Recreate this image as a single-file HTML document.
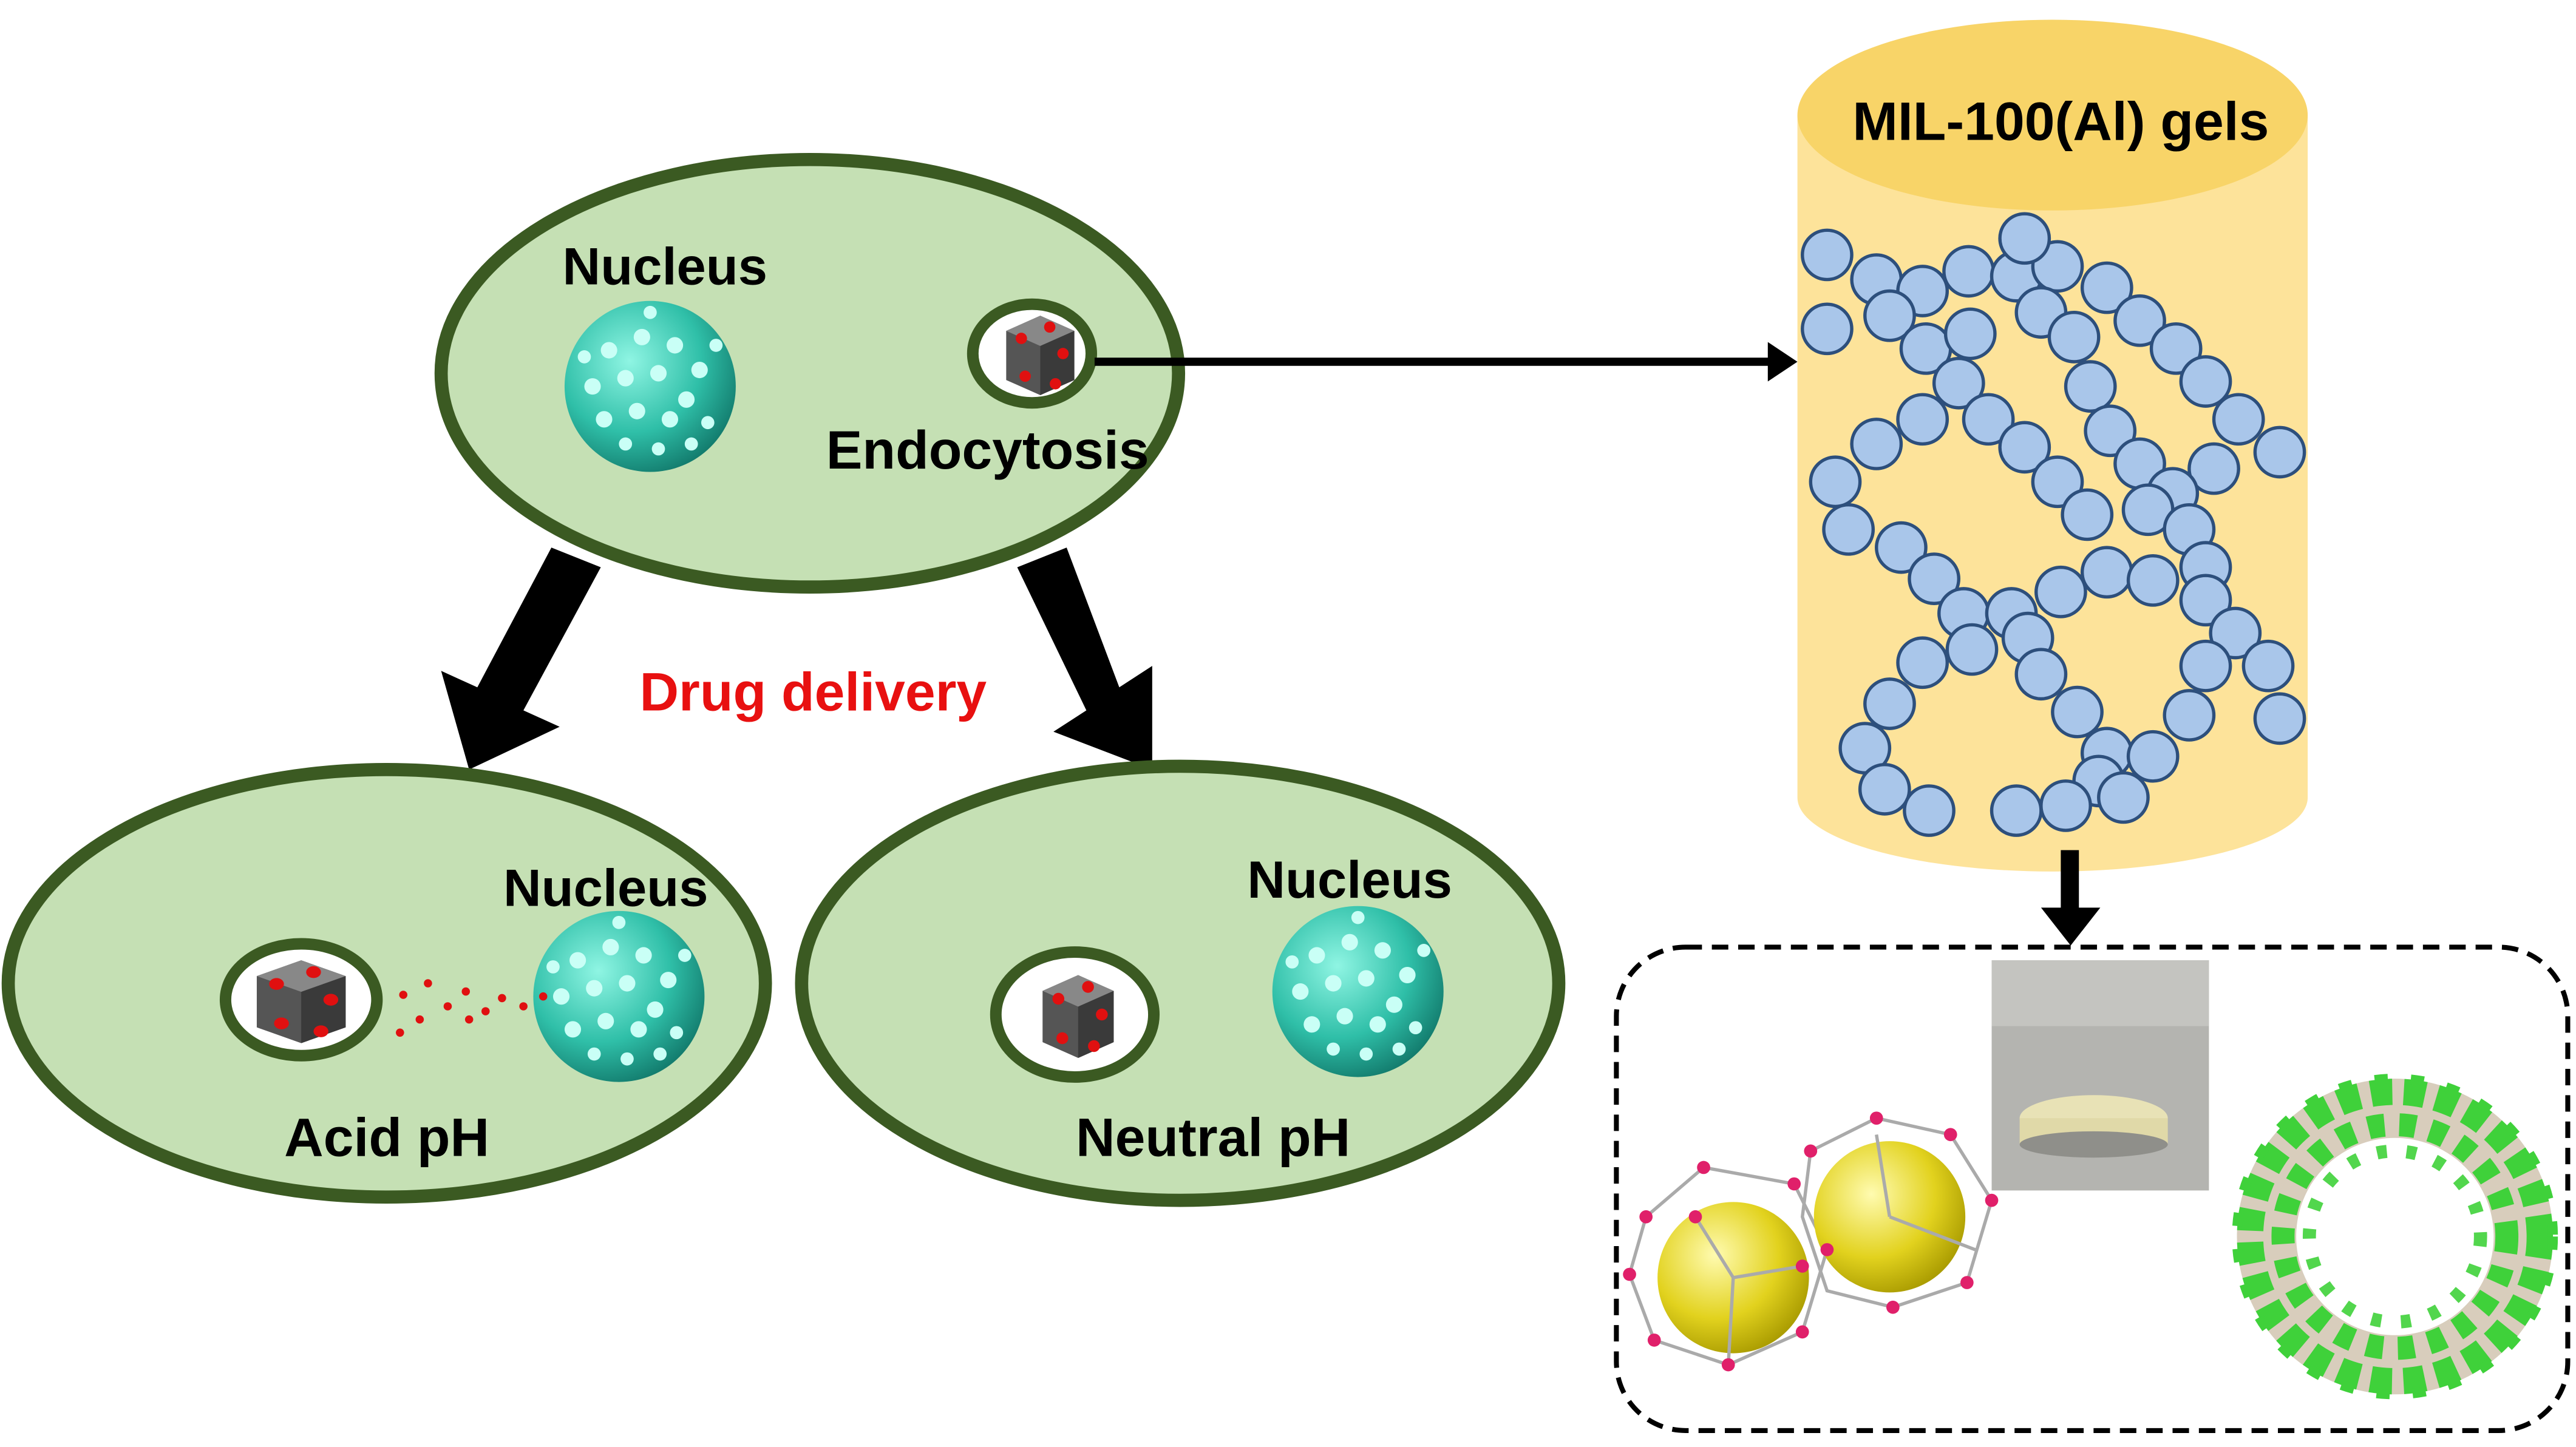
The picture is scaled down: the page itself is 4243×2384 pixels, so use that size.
<!DOCTYPE html>
<html><head><meta charset="utf-8"><style>
html,body{margin:0;padding:0;background:#fff;}
svg{display:block}
text{font-family:"Liberation Sans",Arial,sans-serif;font-weight:bold}
</style></head><body>
<svg width="4243" height="2384" viewBox="0 0 1565 880" preserveAspectRatio="none">
<defs>
<radialGradient id="nuc" cx="0.38" cy="0.35" r="0.7">
<stop offset="0" stop-color="#8ff5e3"/><stop offset="0.6" stop-color="#2fbfa8"/><stop offset="1" stop-color="#127a6c"/></radialGradient>
<radialGradient id="ys" cx="0.38" cy="0.35" r="0.7">
<stop offset="0" stop-color="#fffbb0"/><stop offset="0.6" stop-color="#e2d21e"/><stop offset="1" stop-color="#a89a00"/></radialGradient>
<g id="nucleus">
<circle r="52" fill="url(#nuc)"/>
<g fill="#c9fff6">
<circle cx="-25" cy="-22" r="5"/><circle cx="-5" cy="-30" r="5"/><circle cx="15" cy="-25" r="5"/><circle cx="30" cy="-10" r="5"/>
<circle cx="-35" cy="0" r="5"/><circle cx="-15" cy="-5" r="5"/><circle cx="5" cy="-8" r="5"/><circle cx="22" cy="8" r="5"/>
<circle cx="-28" cy="20" r="5"/><circle cx="-8" cy="15" r="5"/><circle cx="12" cy="20" r="5"/><circle cx="35" cy="22" r="4"/>
<circle cx="-15" cy="35" r="4"/><circle cx="5" cy="38" r="4"/><circle cx="25" cy="35" r="4"/><circle cx="-40" cy="-18" r="4"/>
<circle cx="40" cy="-25" r="4"/><circle cx="0" cy="-45" r="4"/>
</g></g>
<g id="cube">
<path d="M-18,-12 L0,-20 L18,-12 L18,14 L0,22 L-18,14Z" fill="#555"/>
<path d="M-18,-12 L0,-20 L18,-12 L0,-4Z" fill="#888"/>
<path d="M0,-4 L18,-12 L18,14 L0,22Z" fill="#3a3a3a"/>
<g fill="#e01010"><circle cx="-10" cy="-8" r="3"/><circle cx="5" cy="-14" r="3"/><circle cx="12" cy="0" r="3"/><circle cx="-8" cy="12" r="3"/><circle cx="8" cy="16" r="3"/></g>
</g>
</defs>

<!-- top cell -->
<ellipse cx="492" cy="227" rx="224" ry="130" fill="#c5e0b4" stroke="#3b5a22" stroke-width="8"/>
<use href="#nucleus" x="395" y="235"/>
<text x="404" y="173" font-size="32" text-anchor="middle">Nucleus</text>
<ellipse cx="627" cy="215" rx="36" ry="30" fill="#fff" stroke="#3b5a22" stroke-width="7"/>
<g transform="translate(632,215) scale(1.15)"><use href="#cube"/></g>
<text x="600" y="285" font-size="33" text-anchor="middle">Endocytosis</text>
<line x1="665" y1="220" x2="1078" y2="220" stroke="#000" stroke-width="5"/>
<polygon points="1092,220 1074,208 1074,232" fill="#000"/>

<!-- big arrows -->
<polygon points="335,333 365,345 318,432 340,442 285,468 268,408 290,418" fill="#000"/>
<polygon points="618,345 648,333 680,418 700,405 700,468 640,445 660,432" fill="#000"/>
<text x="494" y="432" font-size="33" fill="#e81010" text-anchor="middle">Drug delivery</text>

<!-- bottom left cell -->
<ellipse cx="235" cy="598" rx="230" ry="130" fill="#c5e0b4" stroke="#3b5a22" stroke-width="8"/>
<use href="#nucleus" x="376" y="606"/>
<text x="368" y="551" font-size="32" text-anchor="middle">Nucleus</text>
<ellipse cx="183" cy="608" rx="46" ry="34" fill="#fff" stroke="#3b5a22" stroke-width="7"/>
<g transform="translate(183,608) scale(1.5,1.2)"><use href="#cube"/></g>
<g fill="#e01010"><circle cx="245" cy="605" r="2.5"/><circle cx="260" cy="598" r="2.5"/><circle cx="272" cy="612" r="2.5"/><circle cx="283" cy="603" r="2.5"/><circle cx="295" cy="615" r="2.5"/><circle cx="305" cy="607" r="2.5"/><circle cx="318" cy="612" r="2.5"/><circle cx="255" cy="620" r="2.5"/><circle cx="285" cy="620" r="2.5"/><circle cx="243" cy="628" r="2.5"/><circle cx="330" cy="606" r="2.5"/></g>
<text x="235" y="703" font-size="33" text-anchor="middle">Acid pH</text>

<!-- bottom right cell -->
<ellipse cx="717" cy="598" rx="230" ry="132" fill="#c5e0b4" stroke="#3b5a22" stroke-width="8"/>
<use href="#nucleus" x="825" y="603"/>
<text x="820" y="546" font-size="32" text-anchor="middle">Nucleus</text>
<ellipse cx="653" cy="617" rx="48" ry="38" fill="#fff" stroke="#3b5a22" stroke-width="7"/>
<g transform="translate(655,617) scale(1.2)"><use href="#cube"/></g>
<text x="737" y="703" font-size="33" text-anchor="middle">Neutral pH</text>

<!-- cylinder -->
<path d="M1092,70 L1092,485 A155,45 0 0 0 1402,485 L1402,70Z" fill="#fde39a"/>
<ellipse cx="1247" cy="70" rx="155" ry="58" fill="#f8d468"/>
<text x="1252" y="85" font-size="33" text-anchor="middle">MIL-100(Al) gels</text>
<g fill="#a9c6ea" stroke="#2d4f7c" stroke-width="2">
<circle cx="1110" cy="155" r="15"/><circle cx="1140" cy="170" r="15"/><circle cx="1168" cy="177" r="15"/><circle cx="1196" cy="165" r="15"/><circle cx="1225" cy="168" r="15"/><circle cx="1250" cy="162" r="15"/><circle cx="1280" cy="175" r="15"/><circle cx="1230" cy="145" r="15"/>
<circle cx="1110" cy="200" r="15"/><circle cx="1148" cy="192" r="15"/><circle cx="1170" cy="212" r="15"/><circle cx="1197" cy="203" r="15"/><circle cx="1240" cy="190" r="15"/><circle cx="1260" cy="205" r="15"/><circle cx="1300" cy="195" r="15"/><circle cx="1322" cy="212" r="15"/>
<circle cx="1190" cy="233" r="15"/><circle cx="1270" cy="235" r="15"/><circle cx="1340" cy="232" r="15"/><circle cx="1360" cy="255" r="15"/><circle cx="1385" cy="275" r="15"/>
<circle cx="1168" cy="255" r="15"/><circle cx="1208" cy="255" r="15"/><circle cx="1140" cy="270" r="15"/><circle cx="1230" cy="272" r="15"/><circle cx="1282" cy="262" r="15"/><circle cx="1300" cy="282" r="15"/><circle cx="1345" cy="285" r="15"/>
<circle cx="1115" cy="293" r="15"/><circle cx="1250" cy="293" r="15"/><circle cx="1320" cy="300" r="15"/><circle cx="1305" cy="310" r="15"/><circle cx="1268" cy="313" r="15"/>
<circle cx="1123" cy="322" r="15"/><circle cx="1155" cy="333" r="15"/><circle cx="1330" cy="322" r="15"/><circle cx="1340" cy="345" r="15"/>
<circle cx="1175" cy="352" r="15"/><circle cx="1280" cy="348" r="15"/><circle cx="1308" cy="353" r="15"/><circle cx="1252" cy="360" r="15"/><circle cx="1340" cy="365" r="15"/>
<circle cx="1193" cy="373" r="15"/><circle cx="1222" cy="373" r="15"/><circle cx="1232" cy="388" r="15"/><circle cx="1358" cy="385" r="15"/><circle cx="1198" cy="395" r="15"/><circle cx="1168" cy="403" r="15"/>
<circle cx="1240" cy="410" r="15"/><circle cx="1340" cy="405" r="15"/><circle cx="1378" cy="405" r="15"/><circle cx="1148" cy="428" r="15"/><circle cx="1262" cy="433" r="15"/><circle cx="1330" cy="435" r="15"/><circle cx="1385" cy="437" r="15"/>
<circle cx="1133" cy="455" r="15"/><circle cx="1280" cy="458" r="15"/><circle cx="1308" cy="460" r="15"/><circle cx="1145" cy="480" r="15"/><circle cx="1275" cy="475" r="15"/><circle cx="1172" cy="493" r="15"/><circle cx="1225" cy="493" r="15"/><circle cx="1255" cy="490" r="15"/><circle cx="1290" cy="485" r="15"/>
</g>

<!-- down arrow -->
<rect x="1252" y="517" width="11" height="40" fill="#000"/>
<polygon points="1240,552 1276,552 1258,575" fill="#000"/>

<!-- dashed box -->
<rect x="982" y="576" width="578" height="294" rx="42" fill="none" stroke="#000" stroke-width="3" stroke-dasharray="10,6"/>
<rect x="1210" y="584" width="132" height="140" fill="#b4b4b0"/>
<rect x="1210" y="584" width="132" height="40" fill="#c4c4c0"/>
<ellipse cx="1272" cy="680" rx="45" ry="14" fill="#e8e2b6"/>
<rect x="1227" y="680" width="90" height="16" fill="#e0d9a8"/>
<ellipse cx="1272" cy="696" rx="45" ry="8" fill="#8f8f8a"/>

<!-- cage -->
<g fill="none" stroke="#aaa" stroke-width="2">
<polygon points="1000,740 1035,710 1090,720 1110,760 1095,810 1050,830 1005,815 990,775"/>
<polygon points="1100,700 1140,680 1185,690 1210,730 1195,780 1150,795 1110,785 1095,740"/>
</g>
<circle cx="1053" cy="777" r="46" fill="url(#ys)"/>
<circle cx="1148" cy="740" r="46" fill="url(#ys)"/>
<g fill="none" stroke="#aaa" stroke-width="2"><path d="M1053,777 L1030,740 M1053,777 L1095,770 M1053,777 L1050,830 M1148,740 L1140,690 M1148,740 L1200,760"/></g>
<g fill="#e0206a">
<circle cx="1000" cy="740" r="4"/><circle cx="1035" cy="710" r="4"/><circle cx="1090" cy="720" r="4"/><circle cx="1110" cy="760" r="4"/><circle cx="1095" cy="810" r="4"/><circle cx="1050" cy="830" r="4"/><circle cx="1005" cy="815" r="4"/><circle cx="990" cy="775" r="4"/>
<circle cx="1100" cy="700" r="4"/><circle cx="1140" cy="680" r="4"/><circle cx="1185" cy="690" r="4"/><circle cx="1210" cy="730" r="4"/><circle cx="1195" cy="780" r="4"/><circle cx="1150" cy="795" r="4"/><circle cx="1030" cy="740" r="4"/><circle cx="1095" cy="770" r="4"/>
</g>

<!-- green framework -->
<circle cx="1455" cy="752" r="78" fill="none" stroke="#c8b8a0" stroke-width="36" opacity="0.7"/>
<circle cx="1455" cy="752" r="88" fill="none" stroke="#3fd13a" stroke-width="16" stroke-dasharray="13,7"/>
<circle cx="1455" cy="752" r="68" fill="none" stroke="#3fd13a" stroke-width="14" stroke-dasharray="10,9"/>
<circle cx="1455" cy="752" r="52" fill="none" stroke="#3fd13a" stroke-width="8" stroke-dasharray="6,12" opacity="0.9"/>
<circle cx="1455" cy="752" r="96" fill="none" stroke="#3fd13a" stroke-width="6" stroke-dasharray="8,14"/>
</svg>
</body></html>
